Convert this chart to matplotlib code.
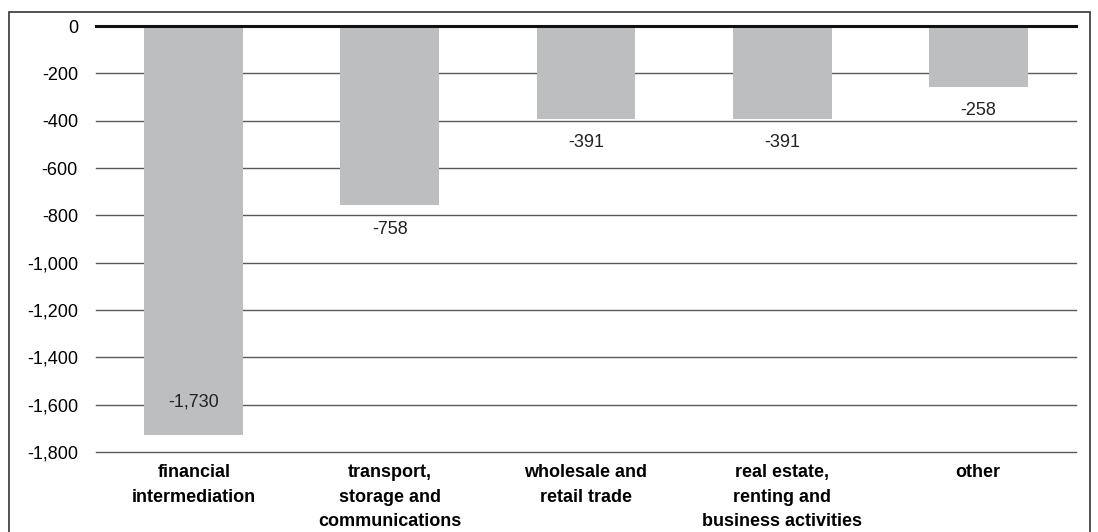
import matplotlib.pyplot as plt
import matplotlib.patches as patches
import numpy as np

plt.rcParams['font.family'] = ['Liberation Sans', 'DejaVu Sans']

# 各行业数值
categories = ['financial\nintermediation', 'transport,\nstorage and\ncommunications',
              'wholesale and\nretail trade', 'real estate,\nrenting and\nbusiness activities', 'other']
values = [-1730, -758, -391, -391, -258]
# 标签放在柱内还是柱外
label_inside = [True, False, False, False, False]
yticks = list(range(0, -1801, -200))

fig = plt.figure(figsize=(10.98, 5.32), dpi=100)
ax = fig.add_axes([0.0874, 0.1504, 0.8926, 0.8007])

x = np.arange(len(categories))
ax.bar(x, values, width=0.505, color='#bdbec0', zorder=2)

ax.set_ylim(-1800, 0)
ax.set_xlim(-0.5, len(categories) - 0.5)
ax.set_yticks(yticks)
ax.set_yticklabels(['{:,}'.format(v) for v in yticks], fontsize=13)
ax.set_xticks(x)
ax.set_xticklabels(categories, fontsize=13, fontweight='bold', linespacing=1.55, va='top')
ax.tick_params(axis='both', length=0)
ax.tick_params(axis='y', pad=13)
ax.tick_params(axis='x', pad=9)
for s in ax.spines.values():
    s.set_visible(False)
# 水平网格线
for v in yticks[1:]:
    ax.axhline(v, color='#5a5a5a', linewidth=1, zorder=1, clip_on=False)
ax.axhline(0, color='#111111', linewidth=2.2, zorder=3, clip_on=False)

# 数值标签
for xi, v, inside in zip(x, values, label_inside):
    off = 24 if inside else -17
    ax.annotate('{:,}'.format(v), (xi, v), xytext=(0, off), textcoords='offset points',
                ha='center', va='center', fontsize=13, color='#222222', zorder=4)

# 外框
fig.patches.append(patches.Rectangle((9 / 1098, -0.05), 1081 / 1098, 1 - 12 / 532 + 0.05,
                                     transform=fig.transFigure, fill=False,
                                     edgecolor='#333333', linewidth=1.2))

fig.savefig('out.png', dpi=100)
